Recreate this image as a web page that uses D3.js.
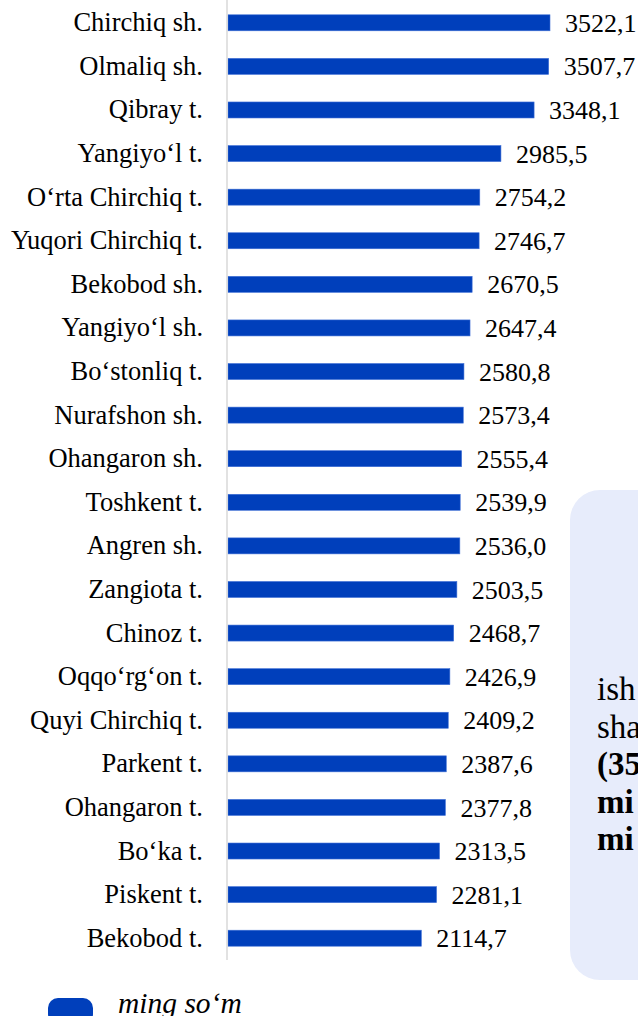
<!DOCTYPE html>
<html>
<head>
<meta charset="utf-8">
<script src="https://cdn.jsdelivr.net/npm/d3@7"></script>
<style>
  body { margin: 0; background: #fff; }
  svg text { font-family: "Liberation Serif", "Times New Roman", serif; }
</style>
</head>
<body>
<svg id="chart" width="638" height="1016"></svg>
<script>
// districts / cities of Tashkent region
const categories = [
  "Chirchiq sh.", "Olmaliq sh.", "Qibray t.", "Yangiyo‘l t.", "O‘rta Chirchiq t.",
  "Yuqori Chirchiq t.", "Bekobod sh.", "Yangiyo‘l sh.", "Bo‘stonliq t.", "Nurafshon sh.",
  "Ohangaron sh.", "Toshkent t.", "Angren sh.", "Zangiota t.", "Chinoz t.",
  "Oqqo‘rg‘on t.", "Quyi Chirchiq t.", "Parkent t.", "Ohangaron t.", "Bo‘ka t.",
  "Piskent t.", "Bekobod t."
];
const values = [
  3522.1, 3507.7, 3348.1, 2985.5, 2754.2,
  2746.7, 2670.5, 2647.4, 2580.8, 2573.4,
  2555.4, 2539.9, 2536.0, 2503.5, 2468.7,
  2426.9, 2409.2, 2387.6, 2377.8, 2313.5,
  2281.1, 2114.7
];
const legendLabel = "ming so‘m";
const noteLines = [
  { t: "ish", bold: false },
  { t: "sha", bold: false },
  { t: "(35", bold: true },
  { t: "mi", bold: true },
  { t: "mi", bold: true }
];

const data = categories.map((c, i) => ({ name: c, value: values[i] }));
const fmt = v => d3.format(".1f")(v).replace(".", ",");
const fs = 26.5;

const svg = d3.select("#chart");
const axisX = 227;

// note box on the right (cut off by the frame)
const box = svg.append("g");
box.append("rect")
  .attr("x", 570).attr("y", 490)
  .attr("width", 120).attr("height", 490)
  .attr("rx", 30).attr("ry", 30)
  .attr("fill", "#e7ecfb");
box.selectAll("text")
  .data(noteLines)
  .join("text")
  .attr("x", 597)
  .attr("y", (d, i) => 700 + i * 37.5)
  .attr("font-size", 33)
  .attr("font-weight", d => d.bold ? "bold" : "normal")
  .attr("fill", "#000")
  .text(d => d.t);

const x = d3.scaleLinear()
  .domain([0, 4000])
  .range([axisX + 1, axisX + 1 + 4000 * 0.09142]);

const y = d3.scaleBand()
  .domain(categories)
  .range([1, 960])
  .paddingInner(0.633)
  .paddingOuter(0.3165);

// bars
svg.append("g")
  .selectAll("rect")
  .data(data)
  .join("rect")
  .attr("x", x(0))
  .attr("y", d => y(d.name))
  .attr("width", d => x(d.value) - x(0))
  .attr("height", y.bandwidth())
  .attr("fill", "#003fbb")
  .attr("stroke", "#3f6fd6")
  .attr("stroke-width", 0.6);

// category axis
const yAxis = svg.append("g")
  .attr("transform", `translate(${axisX},0)`)
  .call(d3.axisLeft(y).tickSize(0).tickPadding(24));
yAxis.select(".domain").attr("stroke", "#d9d9d9").attr("stroke-width", 1.5)
  .attr("d", "M0,0V960");
yAxis.selectAll("text")
  .attr("font-size", fs)
  .attr("font-family", "'Liberation Serif', 'Times New Roman', serif")
  .attr("fill", "#000");

// value labels
svg.append("g")
  .selectAll("text")
  .data(data)
  .join("text")
  .attr("x", d => x(d.value) + 15)
  .attr("y", d => y(d.name) + y.bandwidth() / 2)
  .attr("dy", "0.35em")
  .attr("font-size", 26)
  .attr("fill", "#000")
  .text(d => fmt(d.value));

// legend
const lg = svg.append("g");
lg.append("rect")
  .attr("x", 48).attr("y", 998)
  .attr("width", 45).attr("height", 26)
  .attr("rx", 10).attr("ry", 10)
  .attr("fill", "#003fbb");
lg.append("text")
  .attr("x", 118).attr("y", 1013)
  .attr("font-size", 29.5)
  .attr("font-style", "italic")
  .attr("fill", "#000")
  .text(legendLabel);
</script>
</body>
</html>
